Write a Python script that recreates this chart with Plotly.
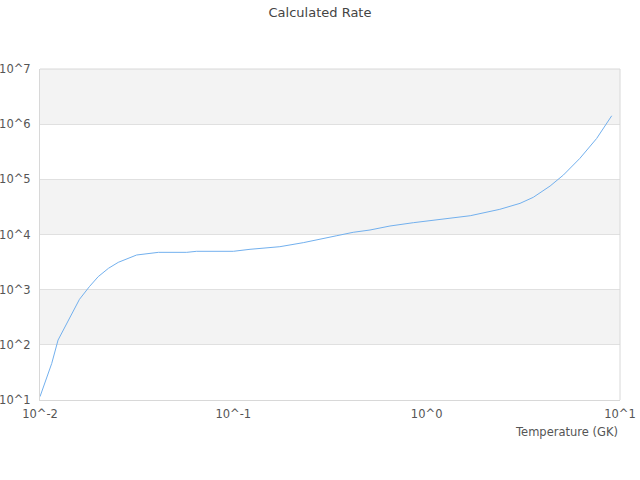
import plotly.graph_objects as go

# ---- data ---- #
temperature = [0.01, 0.0115, 0.0124, 0.014, 0.016, 0.018, 0.02, 0.0226, 0.0254,
               0.0316, 0.0363, 0.041, 0.0574, 0.0646, 0.1, 0.122, 0.174, 0.23,
               0.343, 0.417, 0.509, 0.646, 0.853, 1.04, 1.27, 1.68, 2.39, 3.04,
               3.56, 4.35, 5.1, 6.2, 7.57, 9.06]
rate = [11.5, 46, 122, 282, 668, 1132, 1720, 2440, 3130,
        4250, 4490, 4750, 4750, 4960, 4960, 5390, 6010, 7110,
        9510, 1.096e4, 1.206e4, 1.425e4, 1.637e4, 1.78e4, 1.99e4, 2.19e4, 2.86e4, 3.67e4,
        4.72e4, 7.57e4, 1.2e5, 2.4e5, 5.5e5, 1.42e6]

x_ticks = [0.01, 0.1, 1, 10]
x_labels = ['10^-2', '10^-1', '10^0', '10^1']
y_ticks = [1e1, 1e2, 1e3, 1e4, 1e5, 1e6, 1e7]
y_labels = ['10^1', '10^2', '10^3', '10^4', '10^5', '10^6', '10^7']
bands = [(1e2, 1e3), (1e4, 1e5), (1e6, 1e7)]

fig = go.Figure(go.Scatter(x=temperature, y=rate, mode='lines',
                           line=dict(color='#72b0ee', width=1),
                           hoverinfo='x+y', showlegend=False))

for lo, hi in bands:
    fig.add_shape(type='rect', xref='paper', yref='y', x0=0, x1=1,
                  y0=lo, y1=hi, fillcolor='#f3f3f3', line_width=0, layer='below')

fig.add_annotation(text='Temperature (GK)', xref='paper', yref='paper',
                   x=1, y=-0.096, xanchor='right', yanchor='middle', showarrow=False,
                   font=dict(size=11.5, color='#555'))

fig.update_layout(
    width=640, height=480,
    margin=dict(l=40, r=20, t=69, b=80),
    paper_bgcolor='white', plot_bgcolor='white',
    font=dict(family='DejaVu Sans', size=11.5, color='#555'),
    title=dict(text='Calculated Rate', x=0.5, xanchor='center', y=0.975,
               yanchor='middle', font=dict(size=13, color='#444')),
    xaxis=dict(type='log', range=[-2, 1], tickvals=x_ticks, ticktext=x_labels,
               showgrid=False, zeroline=False, showline=True, linecolor='#d8d8d8',
               ticks='', automargin=False, ticklabelstandoff=3),
    yaxis=dict(type='log', range=[1, 7], tickvals=y_ticks, ticktext=y_labels,
               showgrid=True, gridcolor='#e0e0e0', zeroline=False,
               showline=True, linecolor='#d8d8d8', ticks='', automargin=False,
               ticklabelstandoff=6),
)
fig.add_shape(type='line', xref='paper', yref='paper', x0=1, x1=1, y0=0, y1=1,
              line=dict(color='#d8d8d8', width=1))
fig.add_shape(type='line', xref='paper', yref='paper', x0=0, x1=1, y0=1, y1=1,
              line=dict(color='#d8d8d8', width=1))

# drop the browser's default 8px body margin so the figure sits at the page corner
fig.write_html("out.html", config={'displayModeBar': False},
               post_script="document.body.style.margin='0';")
